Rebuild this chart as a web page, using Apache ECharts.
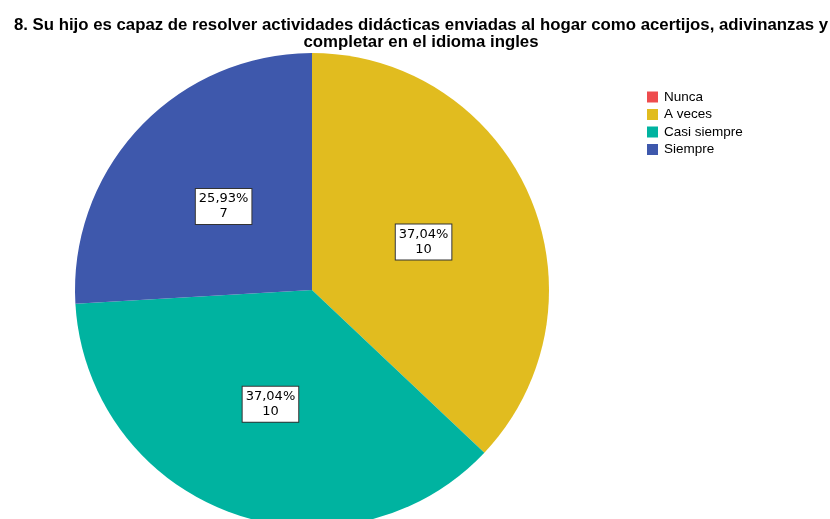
<!DOCTYPE html>
<html><head><meta charset="utf-8">
<script src="https://cdn.jsdelivr.net/npm/echarts@6/dist/echarts.min.js"></script>
<style>html,body{margin:0;padding:0;background:#fff}#c{width:830px;height:519px}</style>
</head><body><div id="c"></div>
<script>
const titleText = "8. Su hijo es capaz de resolver actividades didácticas enviadas al hogar como acertijos, adivinanzas y\ncompletar en el idioma ingles";
const categories = ["Nunca", "A veces", "Casi siempre", "Siempre"];
const counts = [0, 10, 10, 7];
const colors = ["#EE4C4E", "#E1BC1F", "#00B3A0", "#3E58AC"];
const total = counts.reduce((a, b) => a + b, 0);

const chart = echarts.init(document.getElementById('c'));
chart.setOption({
  animation: false,
  title: {
    text: titleText, left: 416, top: 12, textAlign: 'center',
    textStyle: {fontFamily: 'Liberation Sans', fontSize: 16.8, fontWeight: 'bold', color: '#000', lineHeight: 17}
  },
  legend: {
    orient: 'vertical', left: 642, top: 85, icon: 'rect', itemWidth: 11, itemHeight: 11, itemGap: 3.5,
    data: categories,
    textStyle: {fontFamily: 'Liberation Sans', fontSize: 13.5, color: '#000', padding: [0,0,0,1]}
  },
  series: [{
    type: 'pie', center: [312, 290], radius: 237, startAngle: 90, clockwise: true,
    data: categories.map((c, i) => ({
      name: c, value: counts[i], itemStyle: {color: colors[i]},
      label: {show: counts[i] > 0}
    })),
    label: {
      position: 'inside',
      formatter: p => (p.value / total * 100).toFixed(2).replace('.', ',') + '%\n' + p.value,
      fontFamily: 'DejaVu Sans', fontSize: 13, color: '#000', lineHeight: 15,
      backgroundColor: '#fff', borderColor: '#333', borderWidth: 1, padding: [3, 3, 2, 3]
    },
    labelLine: {show: false},
    emphasis: {disabled: true}
  }]
});
</script></body></html>
